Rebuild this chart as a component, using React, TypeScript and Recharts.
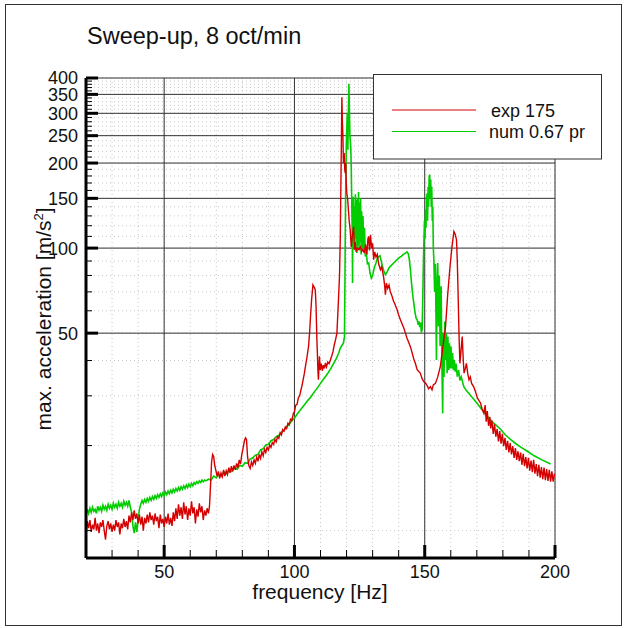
import React from "react";
import { LineChart, Line, XAxis, YAxis, CartesianGrid } from "recharts";

// measured max. acceleration vs. frequency (Hz, m/s^2)
const expSweep: [number, number][] = [
  [20.0, 9.6], [20.5, 10.8], [21.0, 10.2], [21.5, 10.9], [22.0, 9.9], [22.5, 10.5], [23.0, 10.1], [23.5, 11.1],
  [24.0, 10.0], [24.5, 10.6], [25.0, 9.8], [25.5, 10.7], [26.0, 10.3], [26.5, 10.9], [27.0, 10.0], [27.5, 9.3],
  [28.0, 10.4], [28.5, 10.8], [29.0, 10.1], [29.5, 10.6], [30.0, 9.9], [30.5, 10.5], [31.0, 10.0], [31.5, 10.9],
  [32.0, 10.3], [32.5, 10.7], [33.0, 9.7], [33.5, 10.6], [34.0, 10.2], [34.5, 11.0], [35.0, 10.3], [35.5, 10.8],
  [36.0, 10.1], [36.5, 11.3], [37.0, 10.7], [37.5, 11.6], [38.0, 10.9], [38.5, 11.8], [39.0, 11.0], [39.5, 11.5],
  [40.0, 10.6], [40.5, 11.4], [41.0, 10.5], [41.5, 11.2], [42.0, 10.0], [42.5, 11.1], [43.0, 10.6], [43.5, 11.4],
  [44.0, 10.7], [44.5, 11.6], [45.0, 10.9], [45.5, 11.3], [46.0, 10.5], [46.5, 11.5], [47.0, 10.8], [47.5, 11.2],
  [48.0, 10.2], [48.5, 11.4], [49.0, 10.6], [49.5, 11.0], [50.0, 10.3], [50.5, 11.2], [51.0, 10.6], [51.5, 11.5],
  [52.0, 10.5], [52.5, 11.1], [53.0, 10.4], [53.5, 11.6], [54.0, 10.8], [54.5, 12.0], [55.0, 11.0], [55.5, 12.4],
  [56.0, 11.3], [56.5, 12.1], [57.0, 11.0], [57.5, 12.6], [58.0, 11.4], [58.5, 12.2], [59.0, 10.9], [59.5, 12.0],
  [60.0, 11.3], [60.5, 12.7], [61.0, 11.5], [61.5, 12.1], [62.0, 10.6], [62.5, 11.9], [63.0, 11.2], [63.5, 12.5],
  [64.0, 11.6], [64.5, 12.2], [65.0, 10.9], [65.5, 11.8], [66.0, 11.3], [66.5, 12.0], [67.0, 11.5], [67.4, 12.2],
  [67.8, 14.5], [68.2, 17.5], [68.6, 18.6], [69.0, 18.3], [69.4, 17.0], [69.8, 16.4],
  [70.3, 15.6], [70.8, 16.2], [71.3, 15.3], [71.8, 16.0], [72.3, 15.5], [72.8, 16.4], [73.3, 15.6], [73.8, 16.3],
  [74.3, 15.8], [74.8, 16.7], [75.3, 16.0], [75.8, 16.9], [76.3, 16.2], [76.8, 17.0], [77.3, 16.4], [77.8, 17.3],
  [78.3, 16.7], [78.8, 17.8], [79.3, 17.2], [79.8, 18.6], [80.3, 19.6], [80.8, 20.8], [81.2, 21.3], [81.6, 21.0],
  [82.0, 18.3], [82.5, 17.0], [83.0, 16.6], [83.5, 17.5], [84.0, 17.0], [84.5, 17.8], [85.0, 17.3], [85.5, 18.2],
  [86.0, 17.6], [86.5, 18.6], [87.0, 18.0], [87.5, 19.0], [88.0, 18.4], [88.5, 19.4], [89.0, 18.9], [89.5, 19.7],
  [90.0, 19.3], [90.5, 20.1], [91.0, 19.7], [91.5, 20.5], [92.0, 20.2], [92.5, 21.0], [93.0, 20.6], [93.5, 21.5],
  [94.0, 21.2], [94.5, 22.2], [95.0, 21.8], [95.5, 22.8], [96.0, 22.5], [96.5, 23.3], [97.0, 23.0], [97.5, 24.0],
  [98.0, 23.7], [98.5, 24.8], [99.0, 24.6], [99.6, 26.0], [100.0, 26.3], [100.5, 27.8], [101.0, 28.0], [101.5, 29.5],
  [102.0, 30.0], [102.5, 31.5], [102.8, 32.3], [103.3, 34.0], [103.8, 36.0], [104.3, 38.5], [104.8, 41.0], [105.4, 44.8],
  [105.8, 50.0], [106.2, 58.0], [106.6, 66.0], [107.1, 74.1], [107.5, 73.0], [108.0, 71.2], [108.3, 62.0], [108.6, 48.0],
  [108.8, 42.5], [109.0, 37.0], [109.2, 34.2], [109.6, 41.4], [109.9, 37.1], [110.3, 39.0], [110.7, 36.8], [111.1, 38.5],
  [111.5, 37.5], [111.9, 39.2], [112.3, 38.0], [112.8, 39.5], [113.3, 39.0], [113.8, 40.2], [114.3, 41.5], [114.8, 43.0],
  [115.3, 45.5], [115.8, 47.5], [116.3, 50.0], [116.9, 65.6], [117.3, 80.0], [117.6, 110], [117.8, 160], [118.0, 229],
  [118.2, 342], [118.4, 280], [118.6, 249], [118.8, 200], [119.1, 217], [119.3, 190], [119.5, 184], [119.7, 200],
  [119.9, 170], [120.1, 156], [120.4, 150], [120.7, 137], [121.0, 125], [121.4, 116], [121.8, 101], [122.2, 110],
  [122.7, 119], [123.0, 98.6], [123.3, 105], [123.7, 97], [124.2, 100], [124.8, 99], [125.3, 101], [125.8, 97.3],
  [126.3, 99], [126.8, 96], [127.3, 103], [127.8, 95], [128.2, 108], [128.5, 110], [128.8, 98], [129.2, 111.4],
  [129.6, 100], [130.0, 104], [130.4, 91], [130.8, 97], [131.3, 93], [131.8, 95], [132.3, 88], [133.0, 83.8],
  [133.5, 86], [134.2, 79.3], [134.6, 74], [134.9, 68.4], [135.3, 75.2], [135.8, 72], [136.3, 74], [136.8, 70],
  [137.5, 67.4], [138.0, 65], [138.5, 63.5], [139.4, 60.5], [140.0, 58], [140.7, 55.7], [141.3, 54], [142.0, 52],
  [142.6, 50], [143.2, 48], [143.8, 46.5], [144.5, 44.8], [145.2, 42.5], [145.8, 40.5], [146.4, 39.1], [147.1, 37.1],
  [147.8, 36.5], [148.3, 36.1], [149.0, 34.5], [149.6, 33.7], [150.3, 33.3], [151.0, 32.5], [151.5, 31.8], [152.2, 32.3],
  [152.8, 31.5], [153.3, 32.8], [154.1, 33.2], [155.0, 35.0], [156.0, 38.1], [157.0, 45.0], [158.0, 52.8], [158.8, 68.0],
  [159.6, 83.8], [160.4, 100], [161.2, 114.5], [161.7, 112], [162.2, 107], [162.5, 90], [162.8, 69.3], [163.2, 48],
  [163.5, 39.1], [164.0, 44], [164.4, 48.6], [164.8, 40], [165.1, 36.1], [165.6, 37.5], [166.0, 39.1], [166.5, 36],
  [167.0, 34.2], [167.5, 35], [168.0, 33.2], [168.8, 32.3], [169.5, 31], [170.2, 29.5], [171.4, 28.3], [172.0, 27],
  [172.7, 26], [173.2, 27.8], [173.6, 24.3], [174.0, 26.5], [174.5, 23.5], [175.0, 25.3], [175.3, 23.0], [175.8, 24.5],
  [176.3, 22.0], [176.8, 23.8], [177.3, 21.5], [177.8, 22.9], [178.3, 20.7], [178.8, 22.5], [179.3, 20.3], [179.8, 22.0],
  [180.3, 19.9], [180.8, 21.3], [181.3, 19.3], [181.8, 20.8], [182.3, 18.9], [182.8, 20.4], [183.3, 18.6], [183.8, 19.9],
  [184.3, 18.1], [184.8, 19.6], [185.3, 17.8], [185.8, 19.1], [186.3, 17.6], [186.8, 18.9], [187.3, 17.1], [187.8, 18.7],
  [188.3, 16.9], [188.8, 18.2], [189.3, 16.6], [189.8, 18.1], [190.3, 16.3], [190.8, 17.7], [191.3, 16.1], [191.8, 17.8],
  [192.3, 15.9], [192.8, 17.2], [193.3, 15.6], [193.8, 17.1], [194.3, 15.4], [194.8, 16.8], [195.3, 15.2], [195.8, 16.7],
  [196.3, 15.1], [196.8, 16.5], [197.3, 15.0], [197.8, 16.4], [198.3, 14.9], [198.8, 16.2], [199.3, 14.9], [199.8, 15.9],
];

// simulation, 0.67 pr
const numSweep: [number, number][] = [
  [20.0, 11.3], [20.5, 11.9], [21.0, 11.5], [21.5, 12.0], [22.0, 11.6], [22.5, 12.1], [23.0, 11.7], [23.5, 11.9],
  [24.0, 11.5], [24.5, 12.2], [25.0, 11.8], [25.5, 12.1], [26.0, 11.7], [26.5, 12.3], [27.0, 11.9], [27.5, 12.2],
  [28.0, 11.8], [28.5, 12.4], [29.0, 12.0], [29.5, 12.3], [30.0, 11.9], [30.5, 12.5], [31.0, 12.1], [31.5, 12.4],
  [32.0, 12.0], [32.5, 12.6], [33.0, 12.2], [33.5, 12.5], [34.0, 12.1], [34.5, 12.7], [35.0, 12.3], [35.5, 12.6],
  [36.0, 12.2], [36.5, 12.8], [37.0, 12.1], [37.5, 11.6], [38.0, 10.4], [38.5, 9.8], [39.0, 10.7], [39.5, 9.9],
  [40.0, 10.9], [40.5, 11.9], [41.0, 12.4], [41.5, 12.8], [42.0, 12.5], [42.5, 12.9], [43.0, 12.6], [43.5, 13.0],
  [44.0, 12.7], [44.5, 13.1], [45.0, 12.8], [45.5, 13.2], [46.0, 12.9], [46.5, 13.3], [47.0, 13.0], [47.5, 13.4],
  [48.0, 13.1], [48.5, 13.5], [49.0, 13.2], [49.5, 13.6], [50.0, 13.3], [50.5, 13.7], [51.0, 13.4], [51.5, 13.8],
  [52.0, 13.5], [52.5, 13.9], [53.0, 13.6], [53.5, 14.0], [54.0, 13.7], [54.5, 14.1], [55.0, 13.8], [55.5, 14.2],
  [56.0, 13.9], [56.5, 14.3], [57.0, 14.0], [57.5, 14.4], [58.0, 14.1], [58.5, 14.5], [59.0, 14.2], [59.5, 14.6],
  [60.0, 14.3], [60.5, 14.7], [61.0, 14.4], [61.5, 14.8], [62.0, 14.6], [62.5, 14.9], [63.0, 14.7], [63.5, 15.0],
  [64.0, 14.8], [64.5, 15.1], [65.0, 14.9], [65.5, 15.1], [66.0, 15.0], [67.0, 15.2], [68.0, 15.1], [69.0, 15.6],
  [70.0, 15.4], [71.0, 15.8], [72.0, 15.6], [73.0, 16.1], [74.0, 15.9], [75.0, 16.4], [76.0, 16.2], [77.0, 16.7],
  [78.0, 16.5], [79.0, 17.0], [80.0, 16.9], [81.0, 17.4], [82.0, 17.3], [83.0, 17.9], [84.0, 18.1], [85.0, 18.5],
  [86.0, 18.6], [87.0, 19.3], [88.0, 19.5], [89.0, 20.1], [90.0, 20.2], [91.0, 20.8], [92.0, 21.0], [93.0, 21.5],
  [94.0, 21.7], [95.0, 22.3], [96.0, 22.6], [97.0, 23.3], [98.0, 23.8], [99.0, 24.5], [100.0, 25.0], [101.0, 25.8],
  [102.0, 26.5], [103.0, 27.3], [104.0, 28.0], [105.0, 28.8], [106.0, 29.5], [107.0, 30.4], [108.0, 31.3], [109.0, 32.2],
  [110.0, 33.2], [111.0, 34.2], [112.0, 35.2], [113.0, 36.3], [114.0, 37.5], [115.0, 39.0], [116.0, 40.5], [117.0, 42.5],
  [117.6, 44.3], [118.2, 45.2], [118.8, 46.1], [119.2, 48.6], [119.4, 80], [119.6, 144], [119.9, 230], [120.1, 270],
  [120.3, 300], [120.5, 223], [120.7, 300], [120.9, 382], [121.1, 300], [121.3, 249], [121.6, 230], [121.8, 195],
  [122.0, 144], [122.2, 110], [122.3, 75.2], [122.45, 130], [122.6, 152], [122.8, 115], [123.0, 140], [123.2, 100],
  [123.4, 155], [123.6, 108], [123.8, 148], [124.0, 96], [124.2, 150], [124.4, 102], [124.6, 158], [124.8, 98],
  [125.0, 145], [125.2, 105], [125.4, 150], [125.6, 95], [125.8, 135], [126.0, 100], [126.3, 130], [126.6, 100],
  [126.9, 118], [127.2, 93.4], [127.6, 96], [128.0, 88], [128.5, 88.5], [129.0, 81.6], [129.5, 78.3], [130.0, 80],
  [130.6, 85], [131.3, 88.5], [131.8, 92], [132.3, 93.4], [132.8, 94], [133.3, 90], [133.8, 86], [134.3, 83],
  [134.9, 80.5], [135.5, 82], [136.2, 84.9], [137.0, 86.5], [137.8, 88], [138.6, 89.5], [139.4, 91], [140.2, 92.5],
  [141.0, 93.5], [141.8, 95], [142.6, 96], [143.2, 97], [143.7, 95.5], [144.1, 91], [144.5, 84], [145.0, 74],
  [145.5, 67], [145.8, 63.9], [146.3, 59], [146.7, 56.5], [147.1, 55.7], [147.5, 53.5], [147.8, 55], [148.1, 52.5],
  [148.4, 54.5], [148.7, 50.6], [149.0, 51.3], [149.2, 62], [149.4, 80], [149.6, 98.6], [149.9, 125], [150.1, 108],
  [150.3, 136.6], [150.5, 118], [150.7, 150], [150.9, 156], [151.1, 125], [151.3, 165], [151.5, 140], [151.7, 179],
  [151.9, 182], [152.1, 150], [152.3, 175], [152.5, 140], [152.7, 165], [152.9, 125], [153.1, 140], [153.3, 100],
  [153.5, 91], [153.8, 70], [154.1, 88], [154.5, 40.2], [154.8, 78], [155.0, 88.5], [155.3, 52.8], [155.6, 80],
  [155.9, 45], [156.3, 73.2], [156.6, 38], [156.9, 26.0], [157.1, 50], [157.4, 35], [157.7, 55], [158.0, 40.2],
  [158.3, 50], [158.6, 36.1], [158.9, 48.6], [159.2, 37], [159.5, 46], [159.8, 37.5], [160.1, 44.8], [160.4, 37.5],
  [160.7, 42.5], [161.0, 37.0], [161.3, 40.2], [161.7, 36.5], [162.0, 39], [162.5, 35.1], [163.0, 37], [163.5, 34],
  [164.0, 35], [165.0, 32.3], [166.0, 31.3], [168.0, 29.8], [170.0, 28.3], [172.0, 26.8], [174.0, 25.4], [176.5, 24.0],
  [179.0, 22.9], [181.0, 21.8], [183.0, 21.0], [185.0, 20.3], [187.0, 19.7], [189.4, 19.1], [192.0, 18.4], [195.0, 17.8],
  [198.3, 17.2],
];

const xTicks = [20, 30, 40, 50, 60, 70, 80, 90, 100, 110, 120, 130, 140, 150, 160, 170, 180, 190, 200];
const xMajor = [50, 100, 150, 200];
const yTicks = [
  10, 20, 30, 40, 50, 60, 70, 80, 90, 100, 110, 120, 130, 140, 150, 160, 170, 180, 190, 200,
  210, 220, 230, 240, 250, 260, 270, 280, 290, 300, 310, 320, 330, 340, 350, 360, 370, 380, 390, 400,
];
const yMajor = [50, 100, 150, 200, 250, 300, 350, 400];

const seriesNames = ["exp 175", "num 0.67 pr"];
const RED = "#d40000";
const GREEN = "#00cc00";
const FONT = "'Liberation Sans', Arial, Helvetica, sans-serif";

const expData = expSweep.map(([f, a]) => ({ f, a }));
const numData = numSweep.map(([f, a]) => ({ f, a }));

function XTick(props: any) {
  const { x, y, payload } = props;
  const major = xMajor.includes(payload.value);
  return (
    <g>
      <line x1={x} y1={y} x2={x} y2={y - (major ? 13 : 8)} stroke="#000" strokeWidth={major ? 3 : 1} />
      {major && (
        <text x={x} y={y + 20} textAnchor="middle" fontSize={18} fontFamily={FONT} fill="#111">
          {payload.value}
        </text>
      )}
    </g>
  );
}

function YTick(props: any) {
  const { x, y, payload } = props;
  const major = yMajor.includes(payload.value);
  return (
    <g>
      <line x1={x} y1={y} x2={x + (major ? 12 : 6)} y2={y} stroke="#000" strokeWidth={major ? 3 : 1} />
      {major && (
        <text x={x - 8} y={y} dy="0.36em" textAnchor="end" fontSize={18} fontFamily={FONT} fill="#111">
          {payload.value}
        </text>
      )}
    </g>
  );
}

export default function App() {
  return (
    <div style={{ position: "absolute", left: 0, top: 0, width: 625, height: 628, background: "#fff" }}>
      <div style={{ position: "absolute", left: 0, top: 0 }}>
        <LineChart width={625} height={628} margin={{ top: 78, right: 70, bottom: 0, left: 0 }}>
          <CartesianGrid stroke="#c8c8c8" strokeDasharray="1 3" />
          <CartesianGrid stroke="#333" horizontalValues={yMajor} verticalValues={xMajor} />
          <XAxis
            type="number"
            dataKey="f"
            domain={[20, 200]}
            ticks={xTicks}
            interval={0}
            allowDataOverflow
            height={70}
            tickSize={0}
            tickMargin={0}
            tick={<XTick />}
            axisLine={{ stroke: "#000", strokeWidth: 3 }}
          />
          <YAxis
            type="number"
            scale="log"
            domain={[8, 400]}
            ticks={yTicks}
            interval={0}
            allowDataOverflow
            width={86}
            tickSize={0}
            tickMargin={0}
            tick={<YTick />}
            axisLine={{ stroke: "#000", strokeWidth: 3 }}
          />
          <Line
            data={numData}
            dataKey="a"
            name={seriesNames[1]}
            type="linear"
            stroke={GREEN}
            strokeWidth={1.6}
            dot={false}
            isAnimationActive={false}
          />
          <Line
            data={expData}
            dataKey="a"
            name={seriesNames[0]}
            type="linear"
            stroke={RED}
            strokeWidth={1.4}
            dot={false}
            isAnimationActive={false}
          />
        </LineChart>
      </div>
      <svg
        width={625}
        height={628}
        style={{ position: "absolute", left: 0, top: 0, pointerEvents: "none" }}
        fontFamily={FONT}
      >
        <rect x={5.5} y={4.5} width={616} height={621} fill="none" stroke="#333" />
        <text x={87} y={44} fontSize={23.5} fill="#111">
          Sweep-up, 8 oct/min
        </text>
        <text x={320} y={599} fontSize={21} textAnchor="middle" fill="#111">
          frequency [Hz]
        </text>
        <text x={51} y={319} fontSize={21} textAnchor="middle" fill="#111" transform="rotate(-90 51 319)">
          max. acceleration [m/s<tspan dy={-8} fontSize={13}>2</tspan>
          <tspan dy={8}>]</tspan>
        </text>
        <g>
          <rect x={373.5} y={74.5} width={228} height={84.5} fill="#fff" stroke="#333" />
          <line x1={392} y1={110} x2={476} y2={110} stroke={RED} strokeWidth={1} />
          <line x1={392} y1={131.5} x2={476} y2={131.5} stroke={GREEN} strokeWidth={1} />
          <text x={491} y={116.5} fontSize={18} fill="#111">
            {seriesNames[0]}
          </text>
          <text x={489} y={138} fontSize={18} fill="#111">
            {seriesNames[1]}
          </text>
        </g>
      </svg>
    </div>
  );
}
